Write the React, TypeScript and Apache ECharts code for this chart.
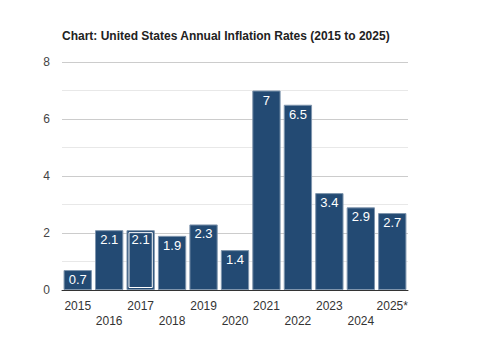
import React, { useEffect, useRef } from "react";
import * as echarts from "echarts";

const years = ["2015", "2016", "2017", "2018", "2019", "2020", "2021", "2022", "2023", "2024", "2025*"];
const rates = [0.7, 2.1, 2.1, 1.9, 2.3, 1.4, 7, 6.5, 3.4, 2.9, 2.7];
const highlightIndex = 2;
const yTicks = [0, 2, 4, 6, 8];

export default function App() {
  const ref = useRef<HTMLDivElement>(null);
  useEffect(() => {
    const chart = echarts.init(ref.current!, null, { renderer: "svg" });
    const font = "'Liberation Sans', Arial, sans-serif";
    chart.setOption({
      animation: false,
      textStyle: { fontFamily: font },
      title: {
        text: "Chart: United States Annual Inflation Rates (2015 to 2025)",
        left: 57,
        top: 25,
        textStyle: { fontSize: 12, fontWeight: "bold", color: "#222", fontFamily: font },
      },
      grid: { left: 62, right: 83, top: 62, bottom: 62, containLabel: false },
      xAxis: {
        type: "category",
        data: years,
        axisTick: { show: false },
        axisLine: { lineStyle: { color: "#333", width: 1 } },
        axisLabel: {
          color: "#333",
          fontSize: 12,
          margin: 8,
          lineHeight: 15,
          interval: 0,
          formatter: (v: string, i: number) => (i % 2 === 1 ? "\n" + v : v),
        },
      },
      yAxis: {
        type: "value",
        min: yTicks[0],
        max: yTicks[yTicks.length - 1],
        interval: 2,
        axisLabel: { color: "#444", fontSize: 12, margin: 12 },
        axisLine: { show: false },
        axisTick: { show: false },
        splitLine: { lineStyle: { color: "#cccccc" } },
        minorTick: { show: false, splitNumber: 2 },
        minorSplitLine: { show: true, lineStyle: { color: "#e8e8e8" } },
      },
      series: [
        {
          type: "bar",
          data: rates,
          barCategoryGap: "10%",
          itemStyle: { color: "#234a73", borderColor: "#7f95ad", borderWidth: 1 },
          label: {
            show: true,
            position: "insideTop",
            distance: 3,
            color: "#fff",
            fontSize: 13,
            fontFamily: font,
          },
        },
        {
          type: "custom",
          data: [[highlightIndex, rates[highlightIndex]]],
          encode: { x: 0, y: 1 },
          silent: true,
          z: 5,
          renderItem: (params: any, api: any) => {
            const top = api.coord([api.value(0), api.value(1)]);
            const base = api.coord([api.value(0), 0]);
            const bw = api.size([1, 0])[0] * 0.9;
            const inset = 2.5;
            return {
              type: "rect",
              shape: {
                x: top[0] - bw / 2 + inset,
                y: top[1] + inset,
                width: bw - inset * 2,
                height: base[1] - top[1] - inset * 2,
              },
              style: { fill: "none", stroke: "#ffffff", lineWidth: 1 },
            };
          },
        },
      ],
    });
    return () => chart.dispose();
  }, []);
  return <div ref={ref} style={{ width: 491, height: 352, margin: -8 }} />;
}
